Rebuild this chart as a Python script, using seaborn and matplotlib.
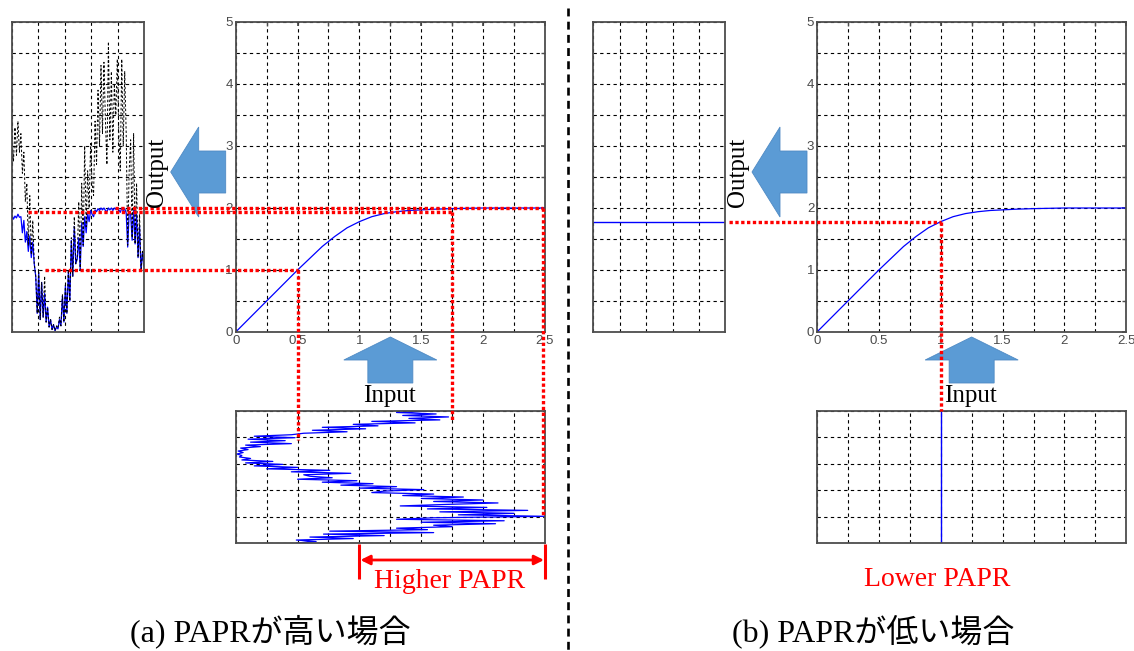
import numpy as np
import matplotlib
matplotlib.use('Agg')
import matplotlib.pyplot as plt
import seaborn as sns
from matplotlib.patches import Polygon
from matplotlib.ticker import MultipleLocator, FixedLocator, LinearLocator

# ---------------- data ----------------
# AM/AM transfer curve (input amplitude -> output amplitude)
curve_x = [0, 0.1, 0.2, 0.3, 0.4, 0.5, 0.6, 0.7, 0.8, 0.9, 1.0, 1.1, 1.2, 1.3,
           1.4, 1.5, 1.6, 1.75, 2.0, 2.25, 2.5]
curve_y = [0, 0.2, 0.4, 0.6, 0.8, 1.0, 1.19, 1.38, 1.54, 1.68, 1.78, 1.86, 1.91,
           1.94, 1.96, 1.97, 1.98, 1.99, 2.0, 2.0, 2.0]

x_tick_vals = [0, 0.5, 1, 1.5, 2, 2.5]
x_tick_labels = ['0', '0.5', '1', '1.5', '2', '2.5']
y_tick_vals = [0, 1, 2, 3, 4, 5]
y_tick_labels = ['0', '1', '2', '3', '4', '5']

# (a) high PAPR: input envelope samples (amplitude, time runs downward)
input_a = [1.57, 1.30, 1.62, 1.35, 1.72, 1.40, 1.65,
           1.10, 1.45, 0.95, 1.15, 0.70, 1.05, 0.62, 0.90, 0.55,
           0.45, 0.15, 0.48, 0.10, 0.40, 0.12, 0.45,
           0.08, 0.20, 0.04, 0.10, 0.02, 0.06, 0.01, 0.05, 0.03, 0.12, 0.05,
           0.30, 0.08, 0.38, 0.15, 0.50, 0.25, 0.76, 0.45, 0.93, 0.55,
           0.60, 0.78, 0.50, 0.98, 0.70, 1.11, 0.85, 1.30, 1.00, 1.52, 1.20,
           1.10, 1.60, 1.35, 1.84, 1.50, 2.00, 1.60, 2.12, 1.70,
           1.33, 2.03, 1.55, 2.36, 1.65, 2.25, 1.80, 2.50, 1.60,
           1.30, 2.17, 1.50, 2.10, 1.60, 1.75, 1.30, 1.55,
           0.76, 1.60, 0.71, 1.20, 0.60, 0.95, 0.49, 0.65, 0.49]

# (a) output without saturation (black dashed)
output_linear_a = [3.10, 2.75, 3.30, 2.85, 3.40, 2.90, 3.20,
                   2.56, 2.90, 2.10, 2.40, 1.40, 2.20, 1.25, 1.80, 1.10,
                   0.90, 0.30, 0.96, 0.20, 0.80, 0.24, 0.90,
                   0.16, 0.40, 0.08, 0.20, 0.04, 0.12, 0.02, 0.10, 0.06, 0.24, 0.10,
                   0.60, 0.16, 0.76, 0.30, 1.00, 0.50, 1.52, 0.90, 1.86, 1.10,
                   1.20, 2.10, 1.00, 2.40, 1.40, 3.00, 1.70, 2.60, 2.00, 3.04, 2.40,
                   2.20, 3.40, 2.70, 3.90, 3.00, 4.30, 3.20, 4.35, 3.40,
                   2.70, 4.68, 3.10, 4.20, 2.90, 4.00, 3.50, 4.40, 3.20,
                   2.60, 4.40, 3.00, 4.20, 3.20, 1.40, 2.60, 3.10,
                   1.52, 3.20, 1.42, 2.40, 1.20, 1.90, 0.98, 1.30, 1.05]

# (a) saturated output (blue)
output_clip_a = [1.88, 1.82, 1.87, 1.84, 1.90, 1.85, 1.86,
                 1.60, 1.80, 1.45, 1.62, 1.30, 1.55, 1.20, 1.45, 1.10,
                 0.90, 0.30, 0.96, 0.20, 0.80, 0.24, 0.62,
                 0.16, 0.40, 0.08, 0.20, 0.04, 0.12, 0.02, 0.08, 0.05, 0.20, 0.10,
                 0.58, 0.16, 0.74, 0.30, 0.98, 0.50, 1.48, 0.90, 1.70, 1.10,
                 1.18, 1.52, 1.00, 1.76, 1.38, 1.86, 1.60, 1.92, 1.78, 1.96, 1.90,
                 1.86, 1.97, 1.94, 1.99, 1.96, 2.00, 1.97, 2.00, 1.96,
                 1.94, 2.00, 1.97, 2.00, 1.96, 2.00, 1.98, 2.00, 1.97,
                 1.93, 2.00, 1.95, 1.99, 1.92, 1.37, 1.93, 1.90,
                 1.48, 1.98, 1.42, 1.90, 1.20, 1.70, 0.98, 1.30, 1.05]

# (b) low PAPR: constant envelope
input_b_level = 1.0
output_b_level = 1.78

# guide lines (a): input amplitude, output level, start time on output, end time on input
guide_in_a = [0.5, 1.75, 2.48]
guide_out_a = [1.0, 1.94, 2.0]
guide_t_out_a = [22.3, 10.8, 69.4]
guide_t_in_a = [19.6, 6.1, 71.0]

papr_span = [1.0, 2.5]

# ---------------- figure ----------------
sns.set_theme(style='white')
plt.rcParams['font.family'] = ['Liberation Serif', 'Noto Sans CJK JP']

W, H = 1134, 651
fig = plt.figure(figsize=(W / 100, H / 100), dpi=100)
fig.patch.set_facecolor('white')

ov_back = fig.add_axes([0, 0, 1, 1])
ov_back.set_xlim(0, W); ov_back.set_ylim(H, 0); ov_back.axis('off')
ov_back.set_zorder(-1)


def add_ax(l, t, r, b):
    return fig.add_axes([l / W, 1 - b / H, (r - l) / W, (b - t) / H])


BLUE = '#0000ff'
GRID = dict(color='black', linestyle=(0, (3, 3)), linewidth=0.8)
FRAME = '#4d4d4d'


def frame(ax):
    for s in ax.spines.values():
        s.set_color(FRAME)
        s.set_linewidth(1.3)
        s.set_visible(True)


def style_main(ax):
    ax.set_xlim(0, 2.5)
    ax.set_ylim(0, 5)
    ax.xaxis.set_major_locator(FixedLocator(x_tick_vals))
    ax.xaxis.set_minor_locator(MultipleLocator(0.25))
    ax.yaxis.set_major_locator(FixedLocator(y_tick_vals))
    ax.yaxis.set_minor_locator(MultipleLocator(0.5))
    ax.set_xticklabels(x_tick_labels)
    ax.set_yticklabels(y_tick_labels)
    ax.grid(True, which='both', **GRID)
    ax.tick_params(which='both', direction='in', length=3, top=True, right=True,
                   color=FRAME, labelcolor='#4a4a4a', labelsize=9.5, pad=2,
                   labelfontfamily='Liberation Sans')
    ax.set_xlabel(''); ax.set_ylabel('')
    frame(ax)


def style_out(ax, n):
    ax.set_xlim(0, n - 1)
    ax.set_ylim(0, 5)
    ax.xaxis.set_major_locator(LinearLocator(6))
    ax.yaxis.set_major_locator(MultipleLocator(0.5))
    ax.grid(True, which='major', **GRID)
    ax.tick_params(length=0, labelbottom=False, labelleft=False)
    ax.set_xlabel(''); ax.set_ylabel('')
    frame(ax)


def style_in(ax, n):
    ax.set_xlim(0, 2.5)
    ax.set_ylim(n - 1, 0)
    ax.xaxis.set_major_locator(MultipleLocator(0.25))
    ax.yaxis.set_major_locator(LinearLocator(6))
    ax.grid(True, which='major', **GRID)
    ax.tick_params(length=0, labelbottom=False, labelleft=False)
    ax.set_xlabel(''); ax.set_ylabel('')
    frame(ax)


n = len(input_a)
t = np.arange(n)

SHIFT = 581.3
out_a = add_ax(12, 22, 144, 332)
main_a = add_ax(235.7, 22, 545, 332)
in_a = add_ax(235.7, 411, 545, 543)
out_b = add_ax(12 + SHIFT, 22, 144 + SHIFT, 332)
main_b = add_ax(235.7 + SHIFT, 22, 545 + SHIFT, 332)
in_b = add_ax(235.7 + SHIFT, 411, 545 + SHIFT, 543)

for ax in (main_a, main_b):
    sns.lineplot(x=curve_x, y=curve_y, ax=ax, color=BLUE, lw=0.9,
                 estimator=None, sort=False, legend=False)
    style_main(ax)

sns.lineplot(x=t, y=output_clip_a, ax=out_a, color=BLUE, lw=0.9,
             estimator=None, sort=False, legend=False)
sns.lineplot(x=t, y=output_linear_a, ax=out_a, color='black', lw=0.7,
             linestyle=(0, (2.5, 2)), estimator=None, sort=False, legend=False)
style_out(out_a, n)

sns.lineplot(x=input_a, y=t, ax=in_a, color=BLUE, lw=0.9,
             estimator=None, sort=False, legend=False)
style_in(in_a, n)

sns.lineplot(x=[0, n - 1], y=[output_b_level, output_b_level], ax=out_b, color=BLUE,
             lw=1.0, estimator=None, sort=False, legend=False)
style_out(out_b, n)

sns.lineplot(x=[input_b_level, input_b_level], y=[0, n - 1], ax=in_b, color=BLUE,
             lw=1.0, estimator=None, sort=False, legend=False)
style_in(in_b, n)

# ---------------- overlays ----------------
ov = fig.add_axes([0, 0, 1, 1])
ov.set_xlim(0, W); ov.set_ylim(H, 0); ov.axis('off')
ov.set_zorder(10)
ov.patch.set_alpha(0)


def P(ax, x, y):
    X, Y = ax.transData.transform((x, y))
    return X, H - Y


ARROW_FC = '#5b9bd5'


def left_arrow(axo, tip_x, cy, head_len=28, head_half=45, shaft_half=21, total=55):
    pts = [(tip_x, cy), (tip_x + head_len, cy - head_half), (tip_x + head_len, cy - shaft_half),
           (tip_x + total, cy - shaft_half), (tip_x + total, cy + shaft_half),
           (tip_x + head_len, cy + shaft_half), (tip_x + head_len, cy + head_half)]
    axo.add_patch(Polygon(pts, closed=True, fc=ARROW_FC, ec='#4f8ac4', lw=0.6))


def up_arrow(axo, cx, tip_y, head_len=23, head_half=46.5, shaft_half=22.5, total=46):
    pts = [(cx, tip_y), (cx + head_half, tip_y + head_len), (cx + shaft_half, tip_y + head_len),
           (cx + shaft_half, tip_y + total), (cx - shaft_half, tip_y + total),
           (cx - shaft_half, tip_y + head_len), (cx - head_half, tip_y + head_len)]
    axo.add_patch(Polygon(pts, closed=True, fc=ARROW_FC, ec='#4f8ac4', lw=0.6))


RED_KW = dict(color='#ff0000', lw=2.4, linestyle=(0, (1, 0.75)), solid_capstyle='butt',
              dash_capstyle='butt')

for main, out, inn in ((main_a, out_a, in_a), (main_b, out_b, in_b)):
    x0, ybot = P(main, 0, 0)
    left_arrow(ov_back, x0 - 65, 172)
    ov.text(x0 - 79, 172, 'Output', rotation=90, ha='center', va='center', fontsize=18,
            family='Liberation Serif', color='black')
    cx, _ = P(main, 1.25, 0)
    up_arrow(ov_back, cx, ybot + 5)
    ov.text(cx - 1, 396, 'Input', ha='center', va='center', fontsize=18,
            family='Liberation Serif', color='black')

# red guide lines (a)
for gi, go, tout, tin in zip(guide_in_a, guide_out_a, guide_t_out_a, guide_t_in_a):
    xs, ys = P(out_a, tout, go)
    xm, ym = P(main_a, gi, go)
    xe, ye = P(in_a, gi, tin)
    ov.plot([xs, xm], [ys, ym], **RED_KW)
    ov.plot([xm, xe], [ym, ye], **RED_KW)

# red guide lines (b)
xs, ys = P(out_b, n - 1 + 2.3, output_b_level)
xm, ym = P(main_b, input_b_level, output_b_level)
xe, ye = P(in_b, input_b_level, 0)
ov.plot([xs, xm], [ys, ym], **RED_KW)
ov.plot([xm, xe], [ym, ye], **RED_KW)

# Higher PAPR bracket
xl, _ = P(in_a, papr_span[0], 0)
xr, _ = P(in_a, papr_span[1], 0)
for xx in (xl, xr):
    ov.plot([xx, xx], [544, 579], color='#ff0000', lw=2.2, solid_capstyle='butt')
ov.annotate('', xy=(xl + 1, 560), xytext=(xr - 1, 560),
            arrowprops=dict(arrowstyle='<|-|>', color='#ff0000', lw=2.0,
                            mutation_scale=14, shrinkA=0, shrinkB=0))
ov.text((xl + xr) / 2 - 3, 581, 'Higher PAPR', ha='center', va='center', fontsize=20,
        color='#ff0000', family='Liberation Serif')
xb, _ = P(in_b, input_b_level, 0)
ov.text(xb - 3, 580, 'Lower PAPR', ha='center', va='center', fontsize=20,
        color='#ff0000', family='Liberation Serif')

# divider
ov.plot([568, 568], [8, 651], color='black', lw=1.9, linestyle=(0, (3, 2)))

# captions
ov.text(270, 631, '(a) PAPRが高い場合', ha='center', va='center', fontsize=23,
        family=['Liberation Serif', 'Noto Sans CJK JP'], color='black')
ov.text(873, 631, '(b) PAPRが低い場合', ha='center', va='center', fontsize=23,
        family=['Liberation Serif', 'Noto Sans CJK JP'], color='black')

fig.savefig('out.png', dpi=100, facecolor='white')
